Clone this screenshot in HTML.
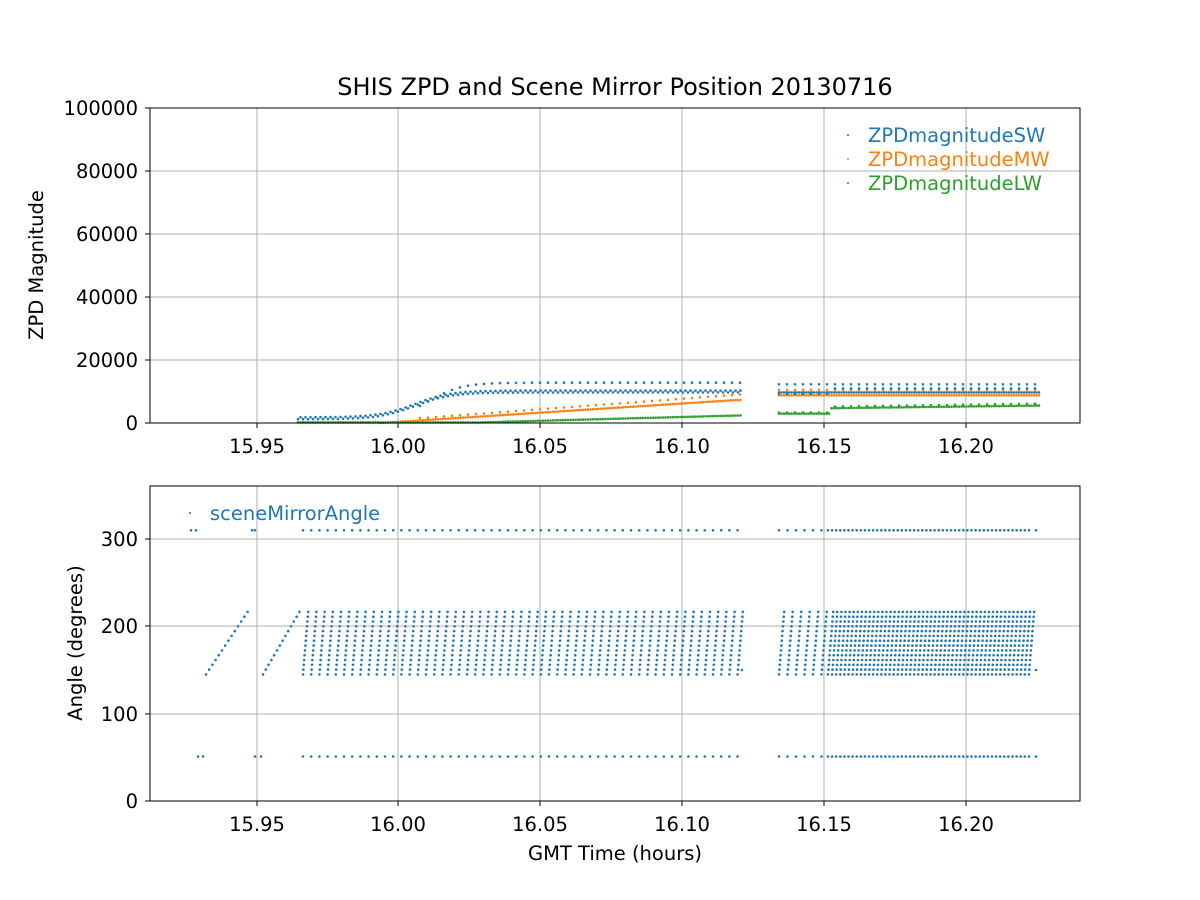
<!DOCTYPE html>
<html><head><meta charset="utf-8"><style>
body{margin:0;background:#fff}
svg{display:block;font-family:"DejaVu Sans","Liberation Sans",sans-serif}
</style></head><body>
<svg id="s" width="1200" height="900" xmlns="http://www.w3.org/2000/svg">
<rect width="1200" height="900" fill="#fff"/>
<g stroke="#b0b0b0" stroke-width="1">
<line x1="257" y1="108" x2="257" y2="423"/><line x1="398" y1="108" x2="398" y2="423"/><line x1="540" y1="108" x2="540" y2="423"/><line x1="682" y1="108" x2="682" y2="423"/><line x1="824" y1="108" x2="824" y2="423"/><line x1="966" y1="108" x2="966" y2="423"/>
<line x1="150" y1="360" x2="1080" y2="360"/><line x1="150" y1="297" x2="1080" y2="297"/><line x1="150" y1="234" x2="1080" y2="234"/><line x1="150" y1="171" x2="1080" y2="171"/>
<line x1="257" y1="486" x2="257" y2="801"/><line x1="398" y1="486" x2="398" y2="801"/><line x1="540" y1="486" x2="540" y2="801"/><line x1="682" y1="486" x2="682" y2="801"/><line x1="824" y1="486" x2="824" y2="801"/><line x1="966" y1="486" x2="966" y2="801"/>
<line x1="150" y1="714" x2="1080" y2="714"/><line x1="150" y1="626" x2="1080" y2="626"/><line x1="150" y1="539" x2="1080" y2="539"/>
</g>
<g id="pts"></g>
<g fill="none" stroke="#000" stroke-width="1">
<rect x="150" y="108" width="930" height="315"/>
<rect x="150" y="486" width="930" height="315"/>
</g>
<g stroke="#000">
<line x1="257" y1="423" x2="257" y2="428"/><line x1="398" y1="423" x2="398" y2="428"/><line x1="540" y1="423" x2="540" y2="428"/><line x1="682" y1="423" x2="682" y2="428"/><line x1="824" y1="423" x2="824" y2="428"/><line x1="966" y1="423" x2="966" y2="428"/>
<line x1="257" y1="801" x2="257" y2="806"/><line x1="398" y1="801" x2="398" y2="806"/><line x1="540" y1="801" x2="540" y2="806"/><line x1="682" y1="801" x2="682" y2="806"/><line x1="824" y1="801" x2="824" y2="806"/><line x1="966" y1="801" x2="966" y2="806"/>
<line x1="145" y1="423" x2="150" y2="423"/><line x1="145" y1="360" x2="150" y2="360"/><line x1="145" y1="297" x2="150" y2="297"/><line x1="145" y1="234" x2="150" y2="234"/><line x1="145" y1="171" x2="150" y2="171"/><line x1="145" y1="108" x2="150" y2="108"/>
<line x1="145" y1="801" x2="150" y2="801"/><line x1="145" y1="714" x2="150" y2="714"/><line x1="145" y1="626" x2="150" y2="626"/><line x1="145" y1="539" x2="150" y2="539"/>
</g>
<g font-size="19.5" fill="#000" text-anchor="middle">
<text x="257" y="453">15.95</text><text x="398" y="453">16.00</text><text x="540" y="453">16.05</text><text x="682" y="453">16.10</text><text x="824" y="453">16.15</text><text x="966" y="453">16.20</text>
<text x="257" y="831">15.95</text><text x="398" y="831">16.00</text><text x="540" y="831">16.05</text><text x="682" y="831">16.10</text><text x="824" y="831">16.15</text><text x="966" y="831">16.20</text>
</g>
<g font-size="19.5" fill="#000" text-anchor="end">
<text x="138" y="430">0</text><text x="138" y="367">20000</text><text x="138" y="304">40000</text><text x="138" y="241">60000</text><text x="138" y="178">80000</text><text x="138" y="115">100000</text>
<text x="138" y="808">0</text><text x="138" y="721">100</text><text x="138" y="633">200</text><text x="138" y="546">300</text>
</g>
<text x="615" y="95" font-size="24" text-anchor="middle">SHIS ZPD and Scene Mirror Position 20130716</text>
<text x="615" y="860" font-size="19.5" text-anchor="middle">GMT Time (hours)</text>
<text transform="translate(43,265) rotate(-90)" font-size="19.5" text-anchor="middle">ZPD Magnitude</text>
<text transform="translate(82,643) rotate(-90)" font-size="19.5" text-anchor="middle">Angle (degrees)</text>
<g font-size="19.5">
<circle cx="848" cy="135" r="1" fill="#1f77b4"/><text x="868" y="142" fill="#1f77b4">ZPDmagnitudeSW</text>
<circle cx="848" cy="159" r="1" fill="#ff7f0e"/><text x="868" y="166" fill="#ff7f0e">ZPDmagnitudeMW</text>
<circle cx="848" cy="183" r="1" fill="#2ca02c"/><text x="868" y="190" fill="#2ca02c">ZPDmagnitudeLW</text>
<circle cx="190" cy="513" r="1" fill="#1f77b4"/><text x="210" y="520" fill="#1f77b4">sceneMirrorAngle</text>
</g>
</svg>
<script>
var g=document.getElementById('pts'),h=[];
function d(x,y,c){h.push('<circle cx="'+x.toFixed(1)+'" cy="'+y.toFixed(1)+'" r="1.3" fill="'+c+'"/>');}
var B='#1f77b4',O='#ff7f0e',G='#2ca02c';
function ay(a){return 801-a*0.8733;}
for(var i=0;i<14;i++){d(206+i*3.2,ay(145+i*5.5),B);d(263+i*2.8,ay(145+i*5.5),B);}
[191,196,252,255].forEach(function(x){d(x,ay(310),B);});
[198,203,255,261].forEach(function(x){d(x,ay(51),B);});
function col(x){for(var i=0;i<14;i++)d(x+i*0.4,ay(145+i*5.5),B);d(x,ay(310),B);d(x,ay(51),B);}
for(var x=303;x<=742;x+=8.2)col(x);
for(var x=779;x<826;x+=8.5)col(x);
for(var x=828;x<=1032;x+=4.1)col(x);
d(1036,ay(150),B);d(1036,ay(310),B);d(1036,ay(51),B);d(742,ay(150),B);
function zy(v){return 423-v*0.00315;}
for(var x=298;x<=742;x+=2.5){
 var sw=1500+8500/(1+Math.exp(-(x-415)/18));
 d(x,zy(sw+(x%5<2.5?300:-300)),B);
 var mw=x<380?200:Math.min(7300,(x-380)*20.5);d(x,zy(mw),O);
 var lw=x<480?200:200+(x-480)*8.5;d(x,zy(lw),G);
}
for(var x=420;x<=742;x+=8){var sw=1500+11300/(1+Math.exp(-(x-430)/16));d(x,zy(sw),B);d(x,zy(600+(x-380)*23.5),O);}
for(var x=779;x<=1040;x+=2.5){
 d(x,zy(9700),B);d(x,zy(8800),O);
 d(x,zy(x<830?3000:4700+(x-830)*4),G);
}
for(var x=779;x<=1040;x+=8){d(x,zy(12300),B);d(x,zy(10500),O);d(x,zy(x<830?3300:5200+(x-830)*4.5),G);d(x,zy(x<830?9300:11000),B);}
g.innerHTML=h.join('');
</script>
</body></html>
